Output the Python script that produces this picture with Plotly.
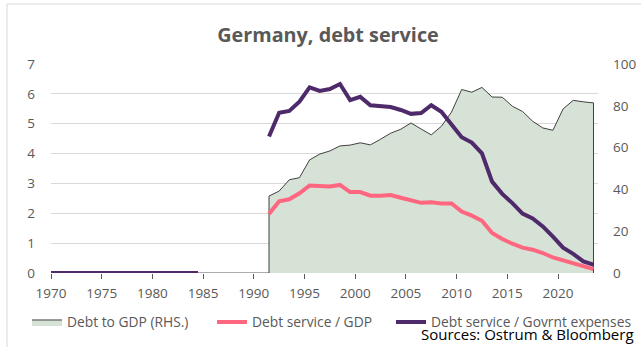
import plotly.graph_objects as go

# Annual observations, dated mid-year
years = list(range(1991, 2024))

# Debt service as a share of government expenses (%), left axis
service_exp = [4.57, 5.37, 5.43, 5.74, 6.22, 6.10, 6.16, 6.33, 5.79, 5.90,
               5.62, 5.58, 5.56, 5.46, 5.33, 5.36, 5.62, 5.40, 4.96, 4.55,
               4.37, 4.01, 3.06, 2.65, 2.34, 1.99, 1.83, 1.56, 1.22, 0.85,
               0.64, 0.39, 0.28]

# Debt service as a share of GDP (%), left axis
service_gdp = [1.98, 2.40, 2.47, 2.67, 2.93, 2.93, 2.90, 2.95, 2.71, 2.71,
               2.59, 2.59, 2.61, 2.52, 2.43, 2.35, 2.37, 2.33, 2.33, 2.06,
               1.92, 1.75, 1.34, 1.14, 0.98, 0.85, 0.78, 0.67, 0.52, 0.42,
               0.31, 0.20, 0.13]

# Debt to GDP (%), right axis
debt_gdp = [36.8, 39.2, 44.6, 45.6, 54.1, 56.9, 58.4, 60.8, 61.2, 62.3,
            61.3, 64.0, 66.9, 68.8, 71.8, 68.9, 66.1, 70.2, 77.0, 87.8,
            86.5, 88.8, 84.2, 84.1, 79.8, 77.3, 72.6, 69.4, 68.3, 78.5,
            82.6, 81.9, 81.4]

# Early expenses series, recorded as zero (half-year steps from 1970)
early_x = [1970 + i / 2 for i in range(30)]
early_exp = [0.0] * 30

x_main = [y + 0.5 for y in years]

GREY = "#595959"
FONT = "Open Sans"
PINK = "#ff6680"
PURPLE = "#4f2a6b"

W, H = 641, 347
L, R, T, B = 51, 43, 64, 74
pw, ph = W - L - R, H - T - B


def px_x(p):
    return (p - L) / pw


def px_y(p):
    return (H - B - p) / ph


fig = go.Figure()

# Debt ratio sits on the base (right-hand) axis so the lines draw above it.
# Closed outline so the border runs down both vertical edges.
area_x = [x_main[0]] + x_main + [x_main[-1]]
area_y = [0] + debt_gdp + [0]
fig.add_trace(go.Scatter(
    x=area_x, y=area_y, yaxis="y", mode="lines", fill="tozeroy",
    fillcolor="#d6e2d5", line=dict(color="#404040", width=1),
    name="Debt to GDP (RHS.)", legendwidth=140, legend="legend",
))

fig.add_trace(go.Scatter(
    x=x_main, y=service_gdp, yaxis="y2", mode="lines",
    line=dict(color=PINK, width=4), name="Debt service / GDP",
    legend="legend",
))

fig.add_trace(go.Scatter(
    x=early_x, y=early_exp, yaxis="y2", mode="lines", showlegend=False,
    line=dict(color=PURPLE, width=4), hoverinfo="skip",
))
fig.add_trace(go.Scatter(
    x=x_main, y=service_exp, yaxis="y2", mode="lines",
    line=dict(color=PURPLE, width=4), name="Debt service / Govrnt expenses",
    legend="legend2",
))

x_end = 1970 + pw / 10.14
tick_font = dict(family=FONT, size=13.5, color=GREY)
legend_style = dict(orientation="h", xanchor="left", yanchor="middle",
                    font=dict(family=FONT, size=13.8, color=GREY),
                    bgcolor="rgba(0,0,0,0)", traceorder="normal")

fig.update_layout(
    width=W, height=H,
    margin=dict(l=L, r=R, t=T, b=B, pad=0, autoexpand=False),
    paper_bgcolor="white", plot_bgcolor="white",
    font=dict(family=FONT, color=GREY, size=13),
    title=dict(text="<b>Germany, debt service</b>", x=328 / W,
               xanchor="center", y=1 - 35 / H, yanchor="middle",
               font=dict(family=FONT, size=19.8, color=GREY)),
    xaxis=dict(range=[1970, x_end], tick0=1970, dtick=5, showgrid=False,
               zeroline=False, showline=False, ticks="outside", ticklen=5,
               tickcolor=GREY, tickfont=tick_font, ticklabelstandoff=3),
    yaxis=dict(range=[0, 100], dtick=20, side="right", showgrid=False,
               zeroline=False, showline=False, tickfont=tick_font,
               ticklabelstandoff=14),
    yaxis2=dict(range=[0, 7], dtick=1, overlaying="y", side="left",
                showgrid=True, gridcolor="#d9d9d9", gridwidth=1,
                zeroline=False, showline=False, tickfont=tick_font,
                ticklabelstandoff=15),
    legend=dict(x=px_x(27), y=px_y(322), **legend_style),
    legend2=dict(x=px_x(391), y=px_y(322), **legend_style),
    showlegend=True,
)

# Horizontal axis line running to the last observation
fig.add_shape(type="line", xref="x", yref="y", x0=1970, x1=x_main[-1], y0=0, y1=0,
              line=dict(color=GREY, width=1), layer="below")

# Chart frame
fig.add_shape(type="rect", xref="paper", yref="paper",
              x0=px_x(7), x1=px_x(W + 10), y0=px_y(H + 10), y1=px_y(4),
              line=dict(color="#d9d9d9", width=1), fillcolor="rgba(0,0,0,0)")

fig.add_annotation(text="Sources: Ostrum & Bloomberg", xref="paper", yref="paper",
                   x=px_x(636), xanchor="right", y=px_y(334), yanchor="middle",
                   showarrow=False, font=dict(family=FONT, size=15, color="#000000"))

fig.write_html("out.html")
